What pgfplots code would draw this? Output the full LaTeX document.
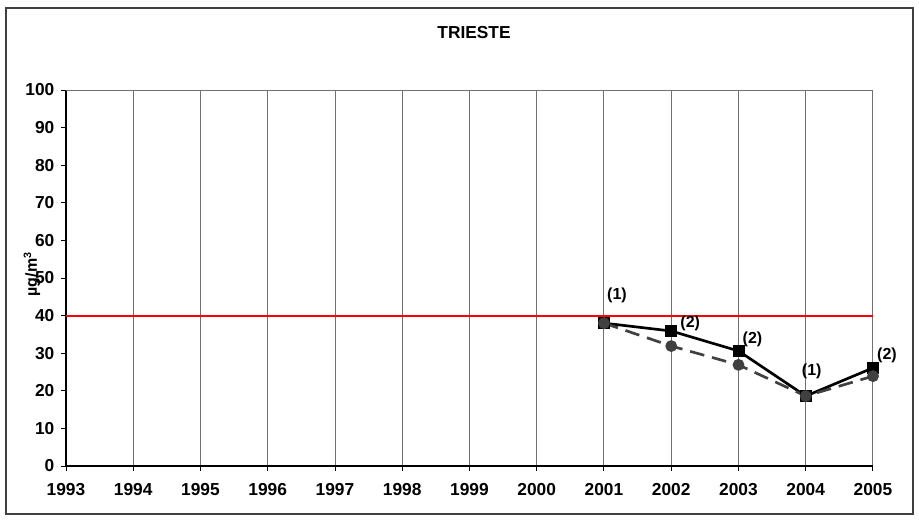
\documentclass[border=0pt]{standalone}
\usepackage{pgfplots}
\pgfplotsset{compat=1.18}
\usepackage{fontspec}
\setmainfont{Liberation Sans}
\definecolor{gridc}{HTML}{707070}
\definecolor{dashc}{HTML}{404040}
\definecolor{framec}{HTML}{404040}
\begin{document}
\begin{tikzpicture}
\useasboundingbox (-49.5pt,-42pt) rectangle (639.75pt,349.5pt);
\draw[framec, line width=1.5pt] (-45pt,-36pt) rectangle (635.25pt,343.5pt);
\begin{axis}[
  at={(0,0)}, anchor=south west,
  scale only axis, width=605.25pt, height=282pt,
  xmin=1993, xmax=2005, ymin=0, ymax=100,
  xtick={1993,...,2005}, ytick={0,10,...,100},
  axis x line*=bottom, axis y line*=left,
  axis line style={-, black, line width=0.8pt},
  xmajorgrids, grid style={gridc, line width=0.7pt},
  tick style={black, line width=0.7pt},
  tick align=outside, major tick length=3.75pt,
  ticklabel style={font=\fontsize{13}{13}\selectfont\bfseries},
  /pgf/number format/assume math mode=true,
  xticklabel style={/pgf/number format/1000 sep={}, yshift=-6pt},
  yticklabel style={xshift=-1.5pt},
  clip=false,
]
\draw[gridc, line width=0.7pt] (rel axis cs:0,1) -- (rel axis cs:1,1);
\addplot[red, line width=1.6pt] coordinates {(1993,40) (2005,40)};
\addplot[black, line width=2pt, mark=square*, mark size=3.5pt, mark options={solid, fill=black}]
  coordinates {(2001,38.0) (2002,35.9) (2003,30.6) (2004,18.6) (2005,26.1)};
\addplot[dashc, line width=2pt, dash pattern=on 11pt off 6pt, mark=*, mark size=3.4pt, mark options={solid, fill=dashc}]
  coordinates {(2001,38.0) (2002,31.9) (2003,26.9) (2004,18.6) (2005,23.9)};
\begin{scope}[every node/.style={font=\fontsize{12}{12}\selectfont\bfseries}]
\node[xshift=9.75pt, yshift=21pt] at (axis cs:2001,38.0) {(1)};
\node[xshift=14.25pt, yshift=6pt] at (axis cs:2002,35.9) {(2)};
\node[xshift=10.5pt, yshift=9pt] at (axis cs:2003,30.6) {(2)};
\node[xshift=4.5pt, yshift=18.75pt] at (axis cs:2004,18.6) {(1)};
\node[xshift=10.5pt, yshift=9.75pt] at (axis cs:2005,26.1) {(2)};
\end{scope}
\node[rotate=90, font=\fontsize{12}{12}\selectfont\bfseries] at ([xshift=-25.5pt]axis cs:1993,51) {µg/m\textsuperscript{3}};
\node[font=\fontsize{13}{13}\selectfont\bfseries] at ([yshift=42.75pt]rel axis cs:0.5056,1) {TRIESTE};
\end{axis}
\end{tikzpicture}
\end{document}
